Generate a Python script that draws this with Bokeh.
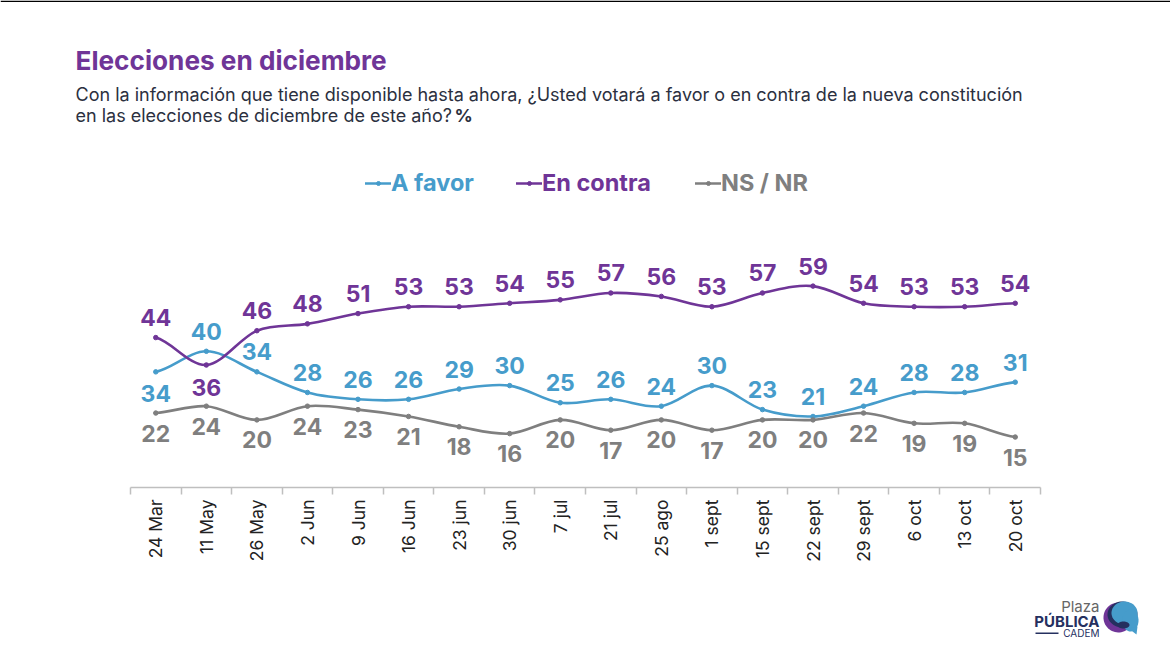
import numpy as np
from bokeh.core.properties import value
from bokeh.embed import file_html
from bokeh.resources import INLINE
from bokeh.plotting import figure
from bokeh.models import ColumnDataSource, FixedTicker, Legend, LegendItem

# ---- data
categories = ["24 Mar", "11 May", "26 May", "2 Jun", "9 Jun", "16 Jun", "23 jun", "30 jun", "7 jul",
              "21 jul", "25 ago", "1 sept", "15 sept", "22 sept", "29 sept", "6 oct", "13 oct", "20 oct"]
a_favor = [34, 40, 34, 28, 26, 26, 29, 30, 25, 26, 24, 30, 23, 21, 24, 28, 28, 31]
en_contra = [44, 36, 46, 48, 51, 53, 53, 54, 55, 57, 56, 53, 57, 59, 54, 53, 53, 54]
ns_nr = [22, 24, 20, 24, 23, 21, 18, 16, 20, 17, 20, 17, 20, 20, 22, 19, 19, 15]
a_favor_below = ["24 Mar"]
en_contra_below = ["11 May"]

BLUE, PURPLE, GRAY = "#469CCB", "#6F3597", "#7F7F7F"
NAVY = "#25305F"
FONT = "Inter"
W, H = 1170, 652
AL, AR, AY = 130, 1040, 487  # axis extent and axis height, in page pixels
PX_X = (AR - AL) / len(categories)
PX_Y = 3.43
Y_AXIS = 0.29


def dx(px):
    return -0.5 + (np.asarray(px, float) - AL) / PX_X


def dy(py):
    return Y_AXIS + (AY - np.asarray(py, float)) / PX_Y


p = figure(width=W, height=H, output_backend="svg", toolbar_location=None,
           x_range=(float(dx(0)), float(dx(W))), y_range=(float(dy(H)), float(dy(0))),
           min_border=0, y_axis_location=None)
p.outline_line_color = None
p.grid.visible = False

idx = list(range(len(categories)))
ax = p.xaxis[0]
ax.fixed_location = Y_AXIS
ax.bounds = (-0.5, len(categories) - 0.5)
ax.ticker = FixedTicker(ticks=idx, minor_ticks=[i - 0.5 for i in range(len(categories) + 1)])
ax.major_label_overrides = {i: c for i, c in enumerate(categories)}
ax.major_label_orientation = np.pi / 2
ax.major_label_text_font = FONT
ax.major_label_text_font_size = "17.5px"
ax.major_label_text_color = "#222222"
ax.major_label_standoff = 5
ax.major_tick_line_color = None
ax.minor_tick_line_color = "#BFBFBF"
ax.minor_tick_line_width = 1.5
ax.minor_tick_in = 0
ax.minor_tick_out = 7
ax.axis_line_color = "#BFBFBF"
ax.axis_line_width = 1.5


def series(values, color, below):
    v = np.asarray(values, float)
    x = np.asarray(idx, float)
    prev_v, next_v = np.r_[v[0], v[:-1]], np.r_[v[1:], v[-1]]
    c0 = v + (next_v - prev_v) / 6
    c1 = v[1:] - (np.r_[v[2:], v[-1]] - v[:-1]) / 6
    src = ColumnDataSource(dict(x0=x[:-1], y0=v[:-1], x1=x[1:], y1=v[1:],
                                cx0=x[:-1] + 1 / 3, cy0=c0[:-1], cx1=x[1:] - 1 / 3, cy1=c1))
    curve = p.bezier("x0", "y0", "x1", "y1", "cx0", "cy0", "cx1", "cy1", source=src,
                     line_color=color, line_width=2.6, line_cap="round")
    dots = p.scatter(x, v, size=4.5, color=color)
    off = [22 if c in below else -20 for c in categories] if below is not None else [20] * len(v)
    p.text(x, v, text=[str(int(a)) for a in v], y_offset=off, text_color=color,
           text_font=value(FONT), text_font_size="23px", text_font_style="bold",
           text_align="center", text_baseline="middle")
    return curve, dots


r_a = series(a_favor, BLUE, a_favor_below)
r_e = series(en_contra, PURPLE, en_contra_below)
r_n = series(ns_nr, GRAY, None)

# legend: one per entry, for its own text colour
for name, rend, col, lx in [("A favor", r_a, BLUE, 365), ("En contra", r_e, PURPLE, 516), ("NS / NR", r_n, GRAY, 695)]:
    lg = Legend(items=[LegendItem(label=name, renderers=list(rend))], location=(lx, H - 197),
                orientation="horizontal", glyph_width=26, glyph_height=10, label_standoff=0,
                padding=0, margin=0, border_line_color=None, background_fill_alpha=0,
                label_text_color=col, label_text_font=FONT, label_text_font_style="bold",
                label_text_font_size="23.5px", label_height=24, label_text_baseline="middle")
    p.add_layout(lg, "center")


def text(s, px, py, size, color, style="normal", align="left"):
    p.text([float(dx(px))], [float(dy(py))], text=[s], text_font=value(FONT),
           text_font_size=f"{size}px", text_color=color, text_font_style=style,
           text_align=align, text_baseline="middle")


def poly(xs, ys, color):
    p.patch(dx(xs), dy(ys), fill_color=color, line_color=None)


# thin black edge along the top of the reference
poly([0, W, W, 0], [0, 0, 1.5, 1.5], "#000000")

text("Elecciones en diciembre", 75, 60, 26.2, PURPLE, "bold")
text("Con la información que tiene disponible hasta ahora, ¿Usted votará a favor o en contra de la nueva constitución",
     75, 94, 18, "#2B3040")
text("en las elecciones de diciembre de este año?", 75, 115, 18, "#2B3040")
text("%", 454, 115, 18, "#2B3040", "bold")

# logo
text("Plaza", 1099, 606, 15, "#666666", "normal", "right")
text("PÚBLICA", 1099, 621, 15, NAVY, "bold", "right")
text("CADEM", 1099, 632, 10, NAVY, "normal", "right")
poly([1035, 1058, 1058, 1035], [632, 632, 633.5, 633.5], NAVY)
t = np.linspace(0, 2 * np.pi, 60)
poly(1118 + 15 * np.cos(t), 617 + 15 * np.sin(t), PURPLE)
poly(1122 + 15 * np.cos(t), 614 + 13 * np.sin(t), NAVY)
poly(1124 + 13 * np.cos(t), 612.5 + 11.5 * np.sin(t), BLUE)
poly(1130 + 8 * np.cos(t), 620 + 11 * np.sin(t), BLUE)
poly([1128, 1137, 1136], [628, 626, 634], BLUE)
poly(1123 + 6 * np.cos(t), 624.5 + 3.5 * np.sin(t), NAVY)

open("out.html", "w").write(file_html(p, INLINE))
